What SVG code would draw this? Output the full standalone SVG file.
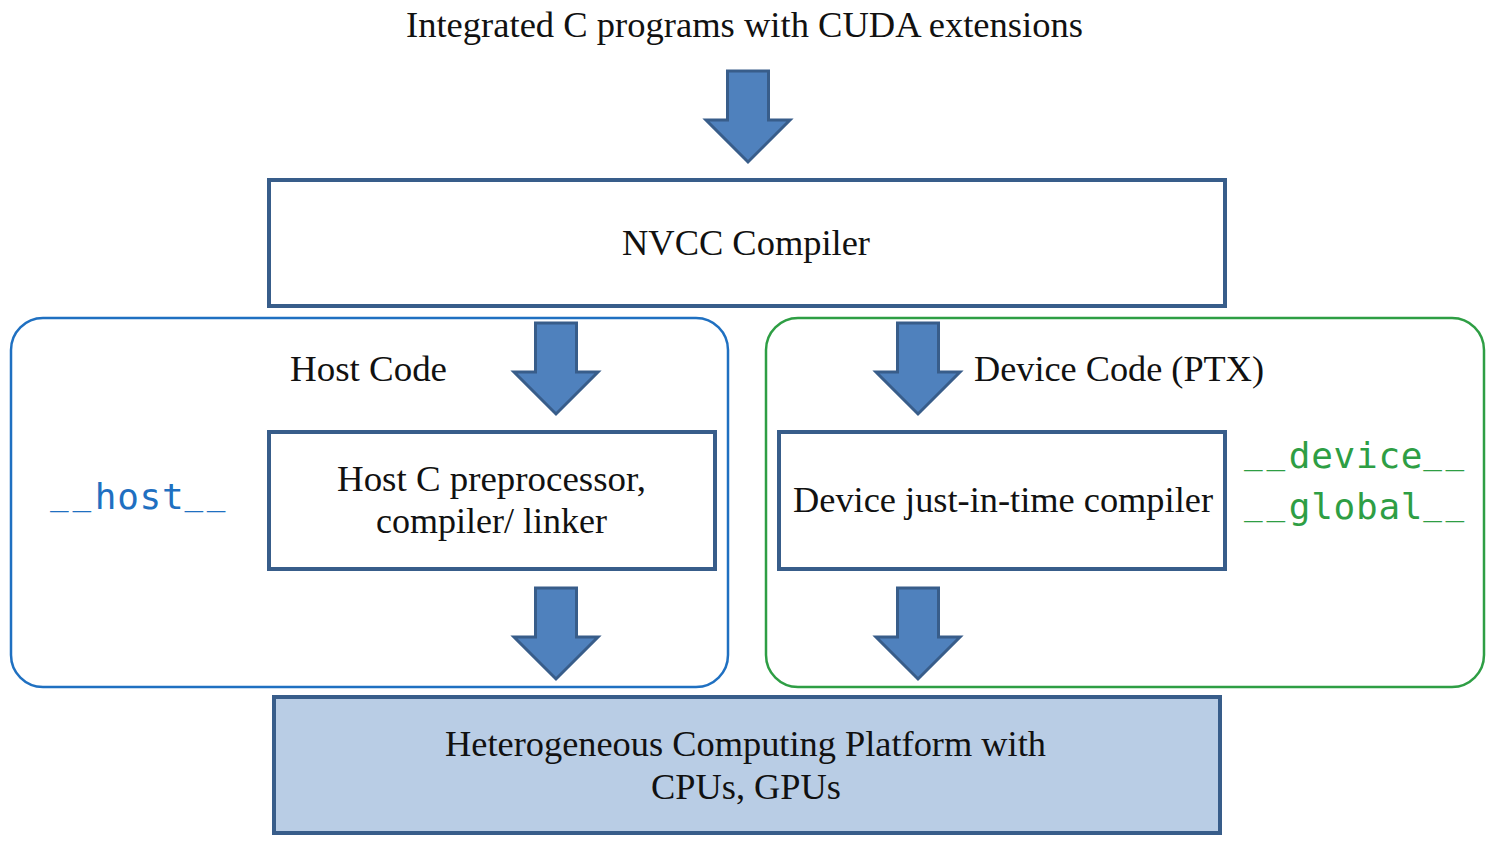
<svg xmlns="http://www.w3.org/2000/svg" width="1495" height="848" viewBox="0 0 1495 848">
<defs>
<style>
.t{font-family:"Liberation Serif","Times New Roman",serif;fill:#111;font-size:35px}
.m{font-family:"DejaVu Sans Mono","Liberation Mono",monospace;font-size:36px}
.u{font-size:31px}
.box{fill:#fff;stroke:#385d8a;stroke-width:4}
.arr{fill:#4f81bd;stroke:#385d8a;stroke-width:3;stroke-linejoin:miter}
</style>
<path id="dn" d="M-20.5,0 H20.5 V49 H42 L0,91 L-42,49 H-20.5 Z"/>
</defs>
<rect width="1495" height="848" fill="#fff"/>
<g id="host-region">
<rect x="11" y="318" width="717" height="369" rx="32" fill="none" stroke="#1f70c1" stroke-width="2.5"/>
<text class="m" fill="#1f70c1"><tspan class="u" x="50 72.4" y="505">__</tspan><tspan x="94.8 117.2 139.6 162" y="509">host</tspan><tspan class="u" x="184.4 206.8" y="505">__</tspan></text>
</g>
<g id="device-region">
<rect x="766" y="318" width="718" height="369" rx="32" fill="none" stroke="#2e9e44" stroke-width="2.5"/>
<text class="m" fill="#2e9e44"><tspan class="u" x="1244 1266.4" y="464">__</tspan><tspan x="1288.8 1311.2 1333.6 1356 1378.4 1400.8" y="468">device</tspan><tspan class="u" x="1423.2 1445.6" y="464">__</tspan></text>
<text class="m" fill="#2e9e44"><tspan class="u" x="1244 1266.4" y="515">__</tspan><tspan x="1288.8 1311.2 1333.6 1356 1378.4 1400.8" y="519">global</tspan><tspan class="u" x="1423.2 1445.6" y="515">__</tspan></text>
</g>
<g id="source">
<text class="t" x="406" y="37" textLength="677" lengthAdjust="spacingAndGlyphs">Integrated C programs with CUDA extensions</text>
</g>
<g id="nvcc">
<rect class="box" x="269" y="180" width="956" height="126"/>
<text class="t" x="622" y="255" textLength="248" lengthAdjust="spacingAndGlyphs">NVCC Compiler</text>
</g>
<g id="host-code-label">
<text class="t" x="290" y="381" textLength="157" lengthAdjust="spacingAndGlyphs">Host Code</text>
</g>
<g id="device-code-label">
<text class="t" x="974" y="381" textLength="290" lengthAdjust="spacingAndGlyphs">Device Code (PTX)</text>
</g>
<g id="host-compiler">
<rect class="box" x="269" y="432" width="446" height="137"/>
<text class="t" x="337" y="491" textLength="309" lengthAdjust="spacingAndGlyphs">Host C preprocessor,</text>
<text class="t" x="376" y="533" textLength="231" lengthAdjust="spacingAndGlyphs">compiler/ linker</text>
</g>
<g id="device-compiler">
<rect class="box" x="779" y="432" width="446" height="137"/>
<text class="t" x="793" y="512" textLength="420" lengthAdjust="spacingAndGlyphs">Device just-in-time compiler</text>
</g>
<g id="platform">
<rect x="274" y="697" width="946" height="136" fill="#b9cde5" stroke="#385d8a" stroke-width="4"/>
<text class="t" x="445" y="756" textLength="601" lengthAdjust="spacingAndGlyphs">Heterogeneous Computing Platform with</text>
<text class="t" x="651" y="799" textLength="190" lengthAdjust="spacingAndGlyphs">CPUs, GPUs</text>
</g>
<g id="connectors">
<use href="#dn" class="arr" transform="translate(748,71)"/>
<use href="#dn" class="arr" transform="translate(556,323)"/>
<use href="#dn" class="arr" transform="translate(918,323)"/>
<use href="#dn" class="arr" transform="translate(556,588)"/>
<use href="#dn" class="arr" transform="translate(918,588)"/>
</g>
</svg>
